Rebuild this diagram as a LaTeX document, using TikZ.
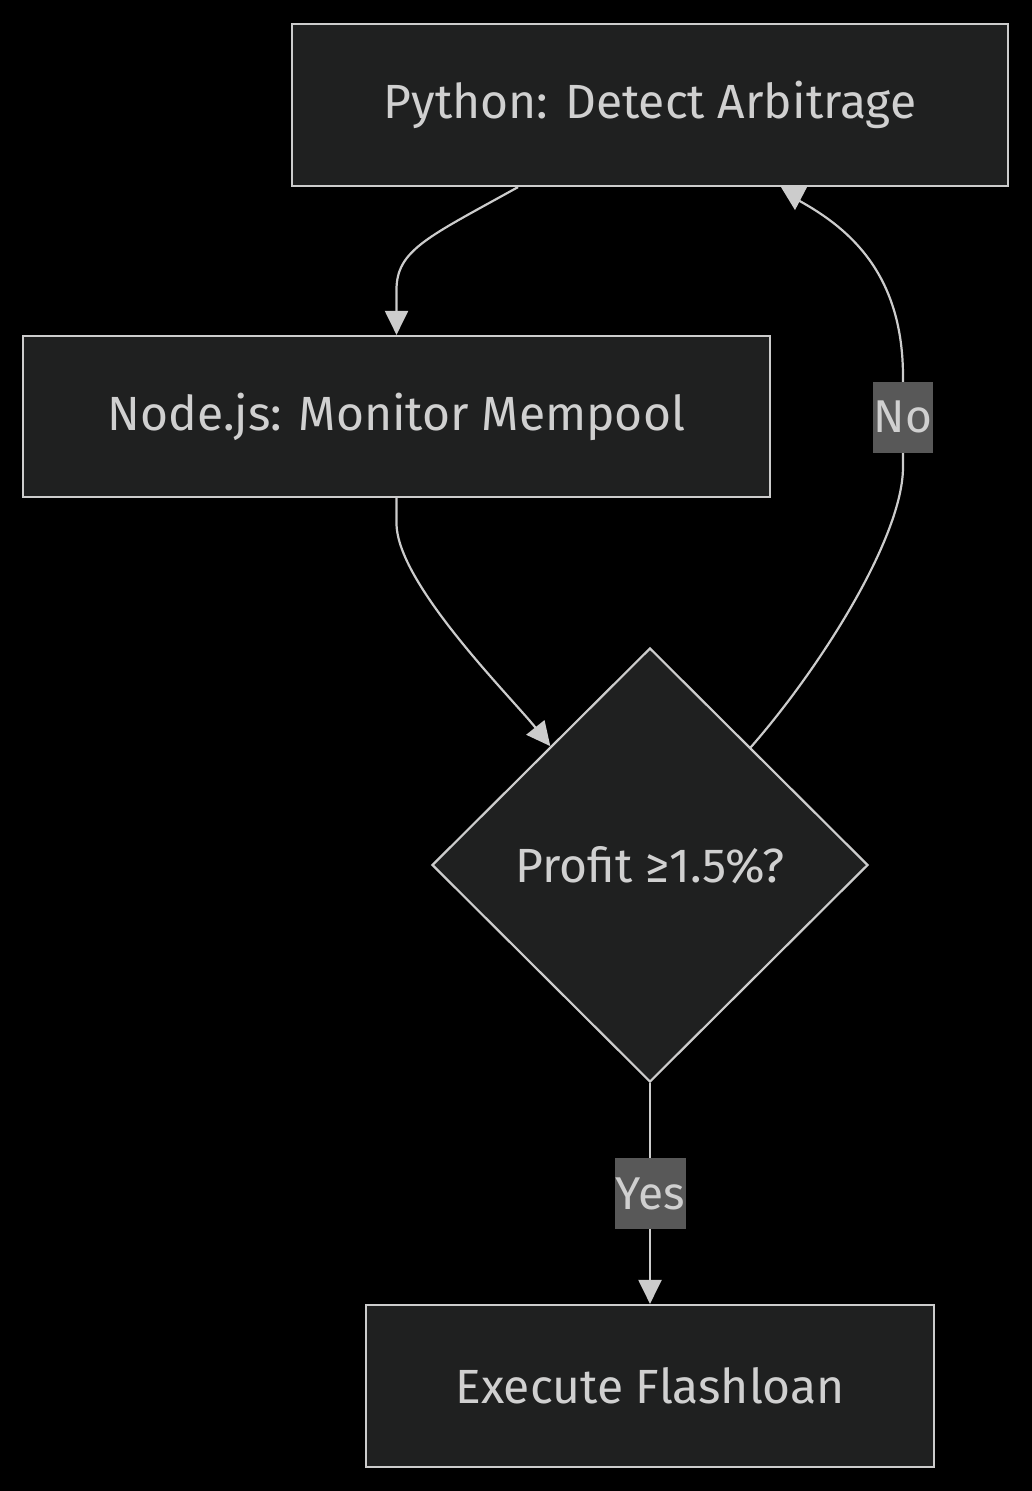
\documentclass[tikz,border=0pt]{standalone}
\usepackage{fontspec}
\setmainfont{Fira Sans}
\usetikzlibrary{shapes.geometric,arrows.meta,calc}
\definecolor{nodefill}{HTML}{1F2020}
\definecolor{linegray}{HTML}{CCCCCC}
\definecolor{textgray}{HTML}{D0D0D0}
\definecolor{labelfill}{HTML}{585858}
\begin{document}
\begin{tikzpicture}[x=1pt,y=-1pt,
  box/.style={draw=linegray,line width=2.2pt,fill=nodefill,text=textgray,inner sep=0pt,font=\fontsize{48}{56}\selectfont},
  decision/.style={diamond,draw=linegray,line width=2.2pt,fill=nodefill,text=textgray,inner sep=0pt,minimum width=436pt,minimum height=434pt,font=\fontsize{48}{56}\selectfont},
  edgelabel/.style={fill=labelfill,text=textgray,inner sep=1pt,minimum width=56pt,minimum height=71pt,font=\fontsize{46}{54}\selectfont},
  flowline/.style={draw=linegray,line width=2.2pt},
  flow/.style={flowline,-{Triangle[width=23pt,length=24pt]}},
  tiphead/.style={fill=linegray}]
\fill[black] (0,0) rectangle (1032,1491);
\useasboundingbox (0,0) rectangle (1032,1491);
\node[box,minimum width=716pt,minimum height=162pt] (A) at (650,105) {Python: Detect Arbitrage};
\node[box,minimum width=747pt,minimum height=161pt] (B) at (396.5,416.5) {Node.js: Monitor Mempool};
\node[decision] (C) at (650,865) {Profit ≥1.5\%?};
\node[box,minimum width=568pt,minimum height=162pt] (D) at (650,1386) {Execute Flashloan};
% A -> B
\draw[flow] ([xshift=-132pt]A.south) .. controls +(-90,50) and +(0,-40) .. ([yshift=45pt]B.north) -- (B.north);
% B -> C
\draw[flow] (B.south) -- ([yshift=-25pt]B.south) .. controls +(0,60) and +(-40,-50) .. ($(C.north)!0.455!(C.west)$);
% C -> A (No)
\coordinate (Nmid) at (903,417);
\draw[flowline] ($(C.north)!0.46!(C.east)$) .. controls +(70,-80) and +(0,70) .. ([yshift=-50pt]Nmid) -- ([yshift=40pt]Nmid) .. controls +(0,-100) and +(55,30) .. ([xshift=148pt,yshift=-13pt]A.south);
\fill[tiphead] ([xshift=131pt]A.south) -- ([xshift=157pt]A.south) -- ([xshift=145pt,yshift=-23pt]A.south) -- cycle;
\node[edgelabel] (No) at (Nmid) {No};
% C -> D (Yes)
\draw[flow] (C.south) -- (D.north);
\node[edgelabel,minimum width=69pt] (Yes) at (650.5,1193.5) {Yes};
\end{tikzpicture}
\end{document}
